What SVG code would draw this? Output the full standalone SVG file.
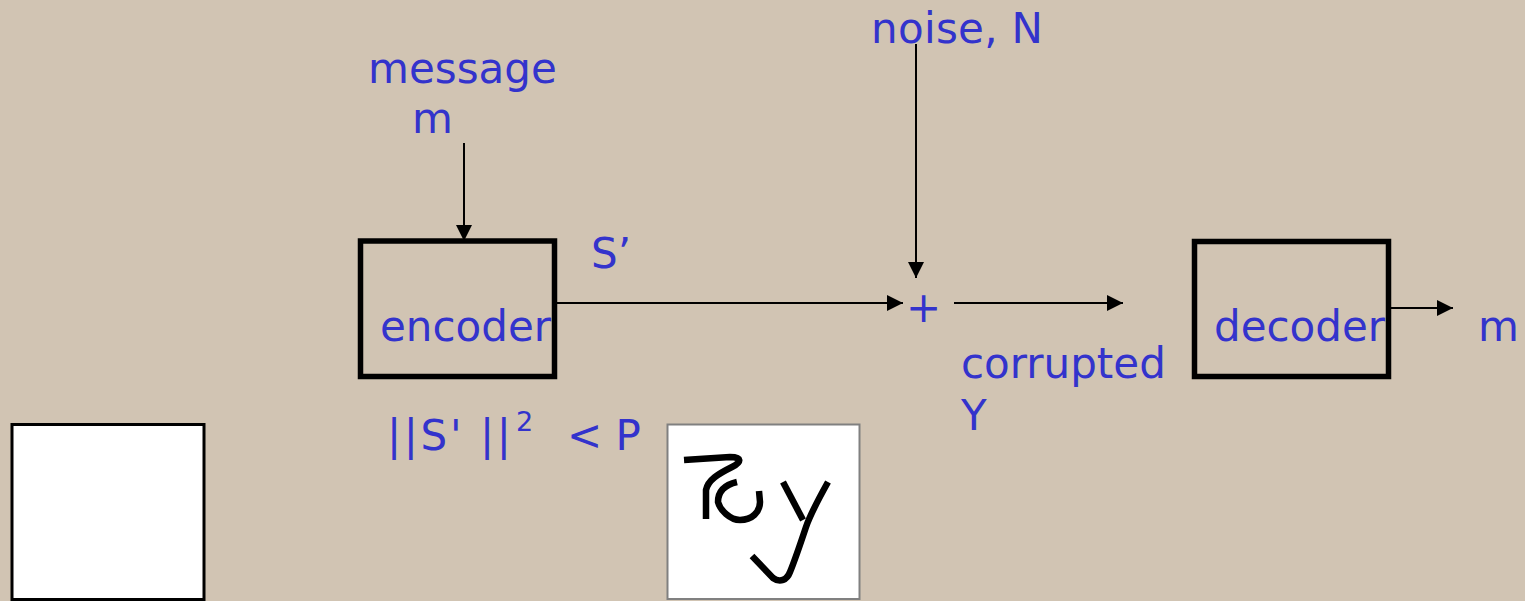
<svg xmlns="http://www.w3.org/2000/svg" width="1525" height="601" viewBox="0 0 1525 601">
<style>
.t{font-family:"DejaVu Sans","Verdana",sans-serif;font-size:42px;fill:#3333cc}
.box{fill:none;stroke:#000;stroke-width:5.5}
.ln{stroke:#000;stroke-width:2;fill:none}
.hw{fill:none;stroke:#000;stroke-width:6.5;stroke-linecap:butt;stroke-linejoin:round}
</style>
<defs>
<marker id="ah" markerUnits="userSpaceOnUse" markerWidth="16" markerHeight="16" refX="16" refY="8" orient="auto">
<path d="M0,0 L16,8 L0,16 z" fill="#000"/>
</marker>
</defs>
<rect width="1525" height="601" fill="#d1c4b3"/>
<g id="message"><text class="t" x="368" y="83">message</text><text class="t" x="412" y="133">m</text></g>
<g id="noise"><text class="t" x="871" y="43" textLength="172">noise, N</text></g>
<g id="encoder"><rect class="box" x="360.5" y="241" width="194" height="135.5"/><text class="t" x="380" y="341">encoder</text></g>
<g id="sprime"><text class="t" x="591" y="268">S’</text></g>
<g id="plus"><text class="t" x="906" y="322">+</text></g>
<g id="corrupted"><text class="t" x="961" y="378">corrupted</text><text class="t" x="961" y="430">Y</text></g>
<g id="decoder"><rect class="box" x="1194.5" y="241.5" width="194" height="135"/><text class="t" x="1214" y="341">decoder</text></g>
<g id="mout"><text class="t" x="1478" y="341">m</text></g>
<g id="power"><text class="t" x="387" y="450" textLength="124">||S' ||</text><text class="t" x="516" y="431" style="font-size:27px">2</text><text class="t" x="567" y="450">&lt; P</text></g>
<g id="blank"><rect x="12" y="424.5" width="192" height="175" fill="#fff" stroke="#000" stroke-width="3"/></g>
<g id="signature">
<rect x="667.5" y="424.5" width="192" height="174.5" fill="#fff" stroke="#808080" stroke-width="2"/>
<path class="hw" d="M684,460 L730,457 C742,457 742,462 732,467 C718,474 708,480 706,490 L706,519"/>
<path class="hw" d="M737,482 C724,485 718,492 718,502 C720,510 730,520 740,520 C752,520 760,512 760,502 L759,491"/>
<path class="hw" d="M783,482 L803,520"/>
<path class="hw" d="M828,482 C818,500 810,515 806,527 C800,545 795,560 790,572 C787,580 780,583 773,578 L752,556"/>
</g>
<g id="connectors">
<line class="ln" x1="464" y1="143" x2="464" y2="241" marker-end="url(#ah)"/>
<line class="ln" x1="916" y1="44" x2="916" y2="278" marker-end="url(#ah)"/>
<line class="ln" x1="557" y1="303" x2="903" y2="303" marker-end="url(#ah)"/>
<line class="ln" x1="954" y1="303" x2="1123" y2="303" marker-end="url(#ah)"/>
<line class="ln" x1="1391" y1="308" x2="1453" y2="308" marker-end="url(#ah)"/>
</g>
</svg>
